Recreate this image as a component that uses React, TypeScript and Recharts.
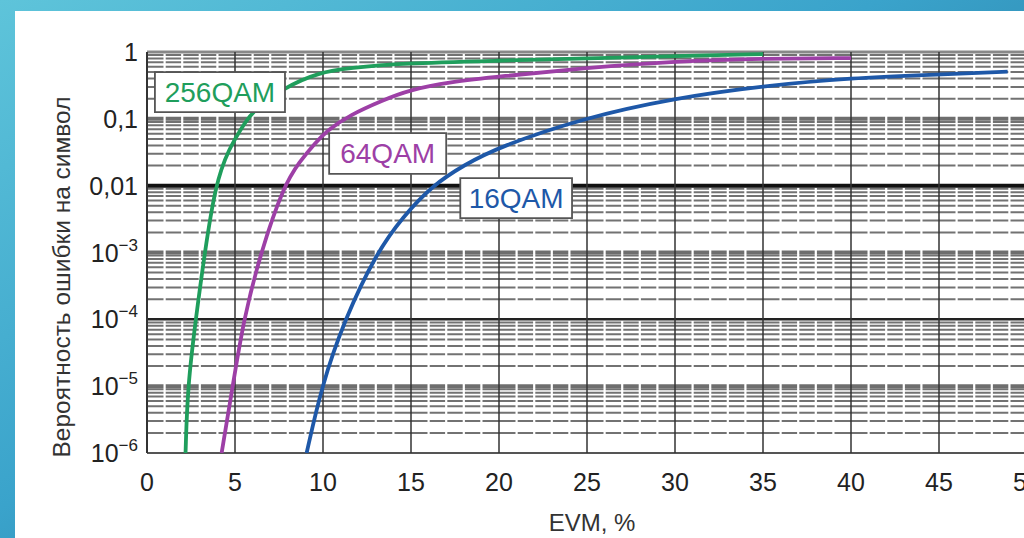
import React from "react";
import {
  LineChart,
  Line,
  XAxis,
  YAxis,
  ReferenceLine,
  ReferenceArea,
} from "recharts";

// EVM, % (x) and symbol error probability (y)
const evm256 = [2.19, 2.31, 2.77, 3.28, 3.88, 4.59, 5.66, 6.0, 7.71, 9.81, 11.52, 14.36, 20, 25, 30, 35];
const ser256 = [1e-6, 1e-5, 1e-4, 1e-3, 1e-2, 0.034, 0.096, 0.126, 0.289, 0.5, 0.576, 0.677, 0.741, 0.805, 0.87, 0.93];

const evm64 = [4.24, 4.87, 5.49, 6.46, 7.77, 8.68, 9.53, 10.27, 11.52, 13.4, 14.9, 17.2, 20, 25, 30, 35, 40];
const ser64 = [1e-6, 1e-5, 1e-4, 1e-3, 1e-2, 0.023, 0.043, 0.068, 0.114, 0.19, 0.27, 0.355, 0.43, 0.58, 0.73, 0.8, 0.81];

const evm16 = [9.07, 9.92, 11.23, 13.05, 14.53, 16.2, 18.0, 20.0, 24.8, 30, 35, 40, 45, 48.9];
const ser16 = [1e-6, 1e-5, 1e-4, 1e-3, 0.0034, 0.01, 0.0203, 0.038, 0.103, 0.205, 0.31, 0.41, 0.46, 0.51];

const xTicks = [0, 5, 10, 15, 20, 25, 30, 35, 40, 45, 50];
const yTicks = [1e-6, 1e-5, 1e-4, 1e-3, 1e-2, 1e-1, 1];
const yTickLabels = ["10^−6", "10^−5", "10^−4", "10^−3", "0,01", "0,1", "1"];

// log grid helpers
const decades = [1e-6, 1e-5, 1e-4, 1e-3, 1e-2, 1e-1];
const minorSteps = [2, 3, 4, 5, 6, 7, 8, 9];
const minorY = decades.flatMap((d) => minorSteps.map((m) => m * d));
const whiteX = Array.from({ length: 50 }, (_, i) => i).filter((v) => v % 5 !== 0);
const grayDecades = [1e-1, 1e-3, 1e-5];
const darkDecades: [number, string, number][] = [
  [1e-2, "#111", 4],
  [1e-4, "#222", 2.5],
  [1e-6, "#555", 2],
];

const FONT = "'Liberation Sans', Arial, sans-serif";

const toRows = (xs: number[], ys: number[]) => xs.map((x, i) => ({ evm: x, ser: ys[i] }));

const YTick = (props: any) => {
  const { y, payload } = props;
  const lab = yTickLabels[yTicks.indexOf(payload.value)] ?? "";
  const [base, exp] = lab.split("^");
  return (
    <text x={138} y={y} dy={9} textAnchor="end" fontSize={25} fill="#222" fontFamily={FONT}>
      {base}
      {exp && (
        <tspan dy={-11} fontSize={17}>
          {exp}
        </tspan>
      )}
    </text>
  );
};

const YTitle = () => (
  <text
    transform="translate(61,277) rotate(-90)"
    textAnchor="middle"
    dominantBaseline="central"
    fontSize={24.5}
    fill="#333"
    fontFamily={FONT}
  >
    Вероятность ошибки на символ
  </text>
);

const XTitle = () => (
  <text x={592} y={531} textAnchor="middle" fontSize={24} fill="#333" fontFamily={FONT}>
    EVM, %
  </text>
);

export default function App() {
  return (
    <div
      style={{
        position: "absolute",
        left: 0,
        top: 0,
        width: 1024,
        height: 538,
        overflow: "hidden",
        background: "linear-gradient(150deg, #5ec4da 0%, #3aa3cb 45%, #1d6389 100%)",
      }}
    >
      <div style={{ position: "absolute", left: 15, top: 11, right: 0, bottom: 0, background: "#fff" }} />
      <div style={{ position: "absolute", left: 0, top: 0 }}>
        <LineChart width={1100} height={538} margin={{ top: 52, right: 73, left: 0, bottom: 45 }}>
          <XAxis
            type="number"
            dataKey="evm"
            domain={[0, 50]}
            ticks={xTicks}
            interval={0}
            axisLine={false}
            tickLine={false}
            tickSize={0}
            tickMargin={20}
            height={40}
            tick={{ fontSize: 25, fill: "#222", fontFamily: FONT }}
            label={{ content: () => <XTitle /> }}
          />
          <YAxis
            type="number"
            scale="log"
            domain={[1e-6, 1]}
            allowDataOverflow
            ticks={yTicks}
            interval={0}
            axisLine={false}
            tickLine={false}
            width={147}
            tick={<YTick />}
            label={{ content: () => <YTitle /> }}
          />

          {minorY.map((v) => (
            <ReferenceLine key={"m" + v} y={v} stroke="#727272" strokeWidth={2} zIndex={-100} />
          ))}
          {grayDecades.map((v) => (
            <ReferenceLine key={"g" + v} y={v} stroke="#6e6e6e" strokeWidth={4} zIndex={-100} />
          ))}
          {whiteX.map((v) => (
            <ReferenceLine key={"w" + v} x={v} stroke="#fff" strokeWidth={2.2} zIndex={-100} />
          ))}
          <ReferenceLine y={1} stroke="#888" strokeWidth={3} zIndex={-100} />
          {darkDecades.map(([v, c, w]) => (
            <ReferenceLine key={"d" + v} y={v} stroke={c} strokeWidth={w} zIndex={-100} />
          ))}
          {xTicks.map((v) => (
            <ReferenceLine key={"v" + v} x={v} stroke="#333" strokeWidth={v === 0 ? 2 : 1.5} zIndex={-100} />
          ))}

          <Line
            data={toRows(evm256, ser256)}
            dataKey="ser"
            type="basis"
            stroke="#1f9e5c"
            strokeWidth={3.8}
            dot={false}
            isAnimationActive={false}
          />
          <Line
            data={toRows(evm64, ser64)}
            dataKey="ser"
            type="basis"
            stroke="#9d3fa6"
            strokeWidth={3.8}
            dot={false}
            isAnimationActive={false}
          />
          <Line
            data={toRows(evm16, ser16)}
            dataKey="ser"
            type="basis"
            stroke="#1e58a8"
            strokeWidth={3.8}
            dot={false}
            isAnimationActive={false}
          />

          <ReferenceArea
            x1={0.45}
            x2={7.84}
            y1={0.126}
            y2={0.5}
            fill="#fff"
            fillOpacity={1}
            stroke="#555"
            strokeWidth={1.8}
            zIndex={1000}
            label={{ value: "256QAM", position: "center", fill: "#1f9e5c", fontSize: 28, fontFamily: FONT }}
          />
          <ReferenceArea
            x1={10.35}
            x2={17.0}
            y1={0.015}
            y2={0.061}
            fill="#fff"
            fillOpacity={1}
            stroke="#555"
            strokeWidth={1.8}
            zIndex={1000}
            label={{ value: "64QAM", position: "center", fill: "#9d3fa6", fontSize: 28, fontFamily: FONT }}
          />
          <ReferenceArea
            x1={17.8}
            x2={24.15}
            y1={0.00326}
            y2={0.013}
            fill="#fff"
            fillOpacity={1}
            stroke="#555"
            strokeWidth={1.8}
            zIndex={1000}
            label={{ value: "16QAM", position: "center", fill: "#1e58a8", fontSize: 28, fontFamily: FONT }}
          />
        </LineChart>
      </div>
    </div>
  );
}
